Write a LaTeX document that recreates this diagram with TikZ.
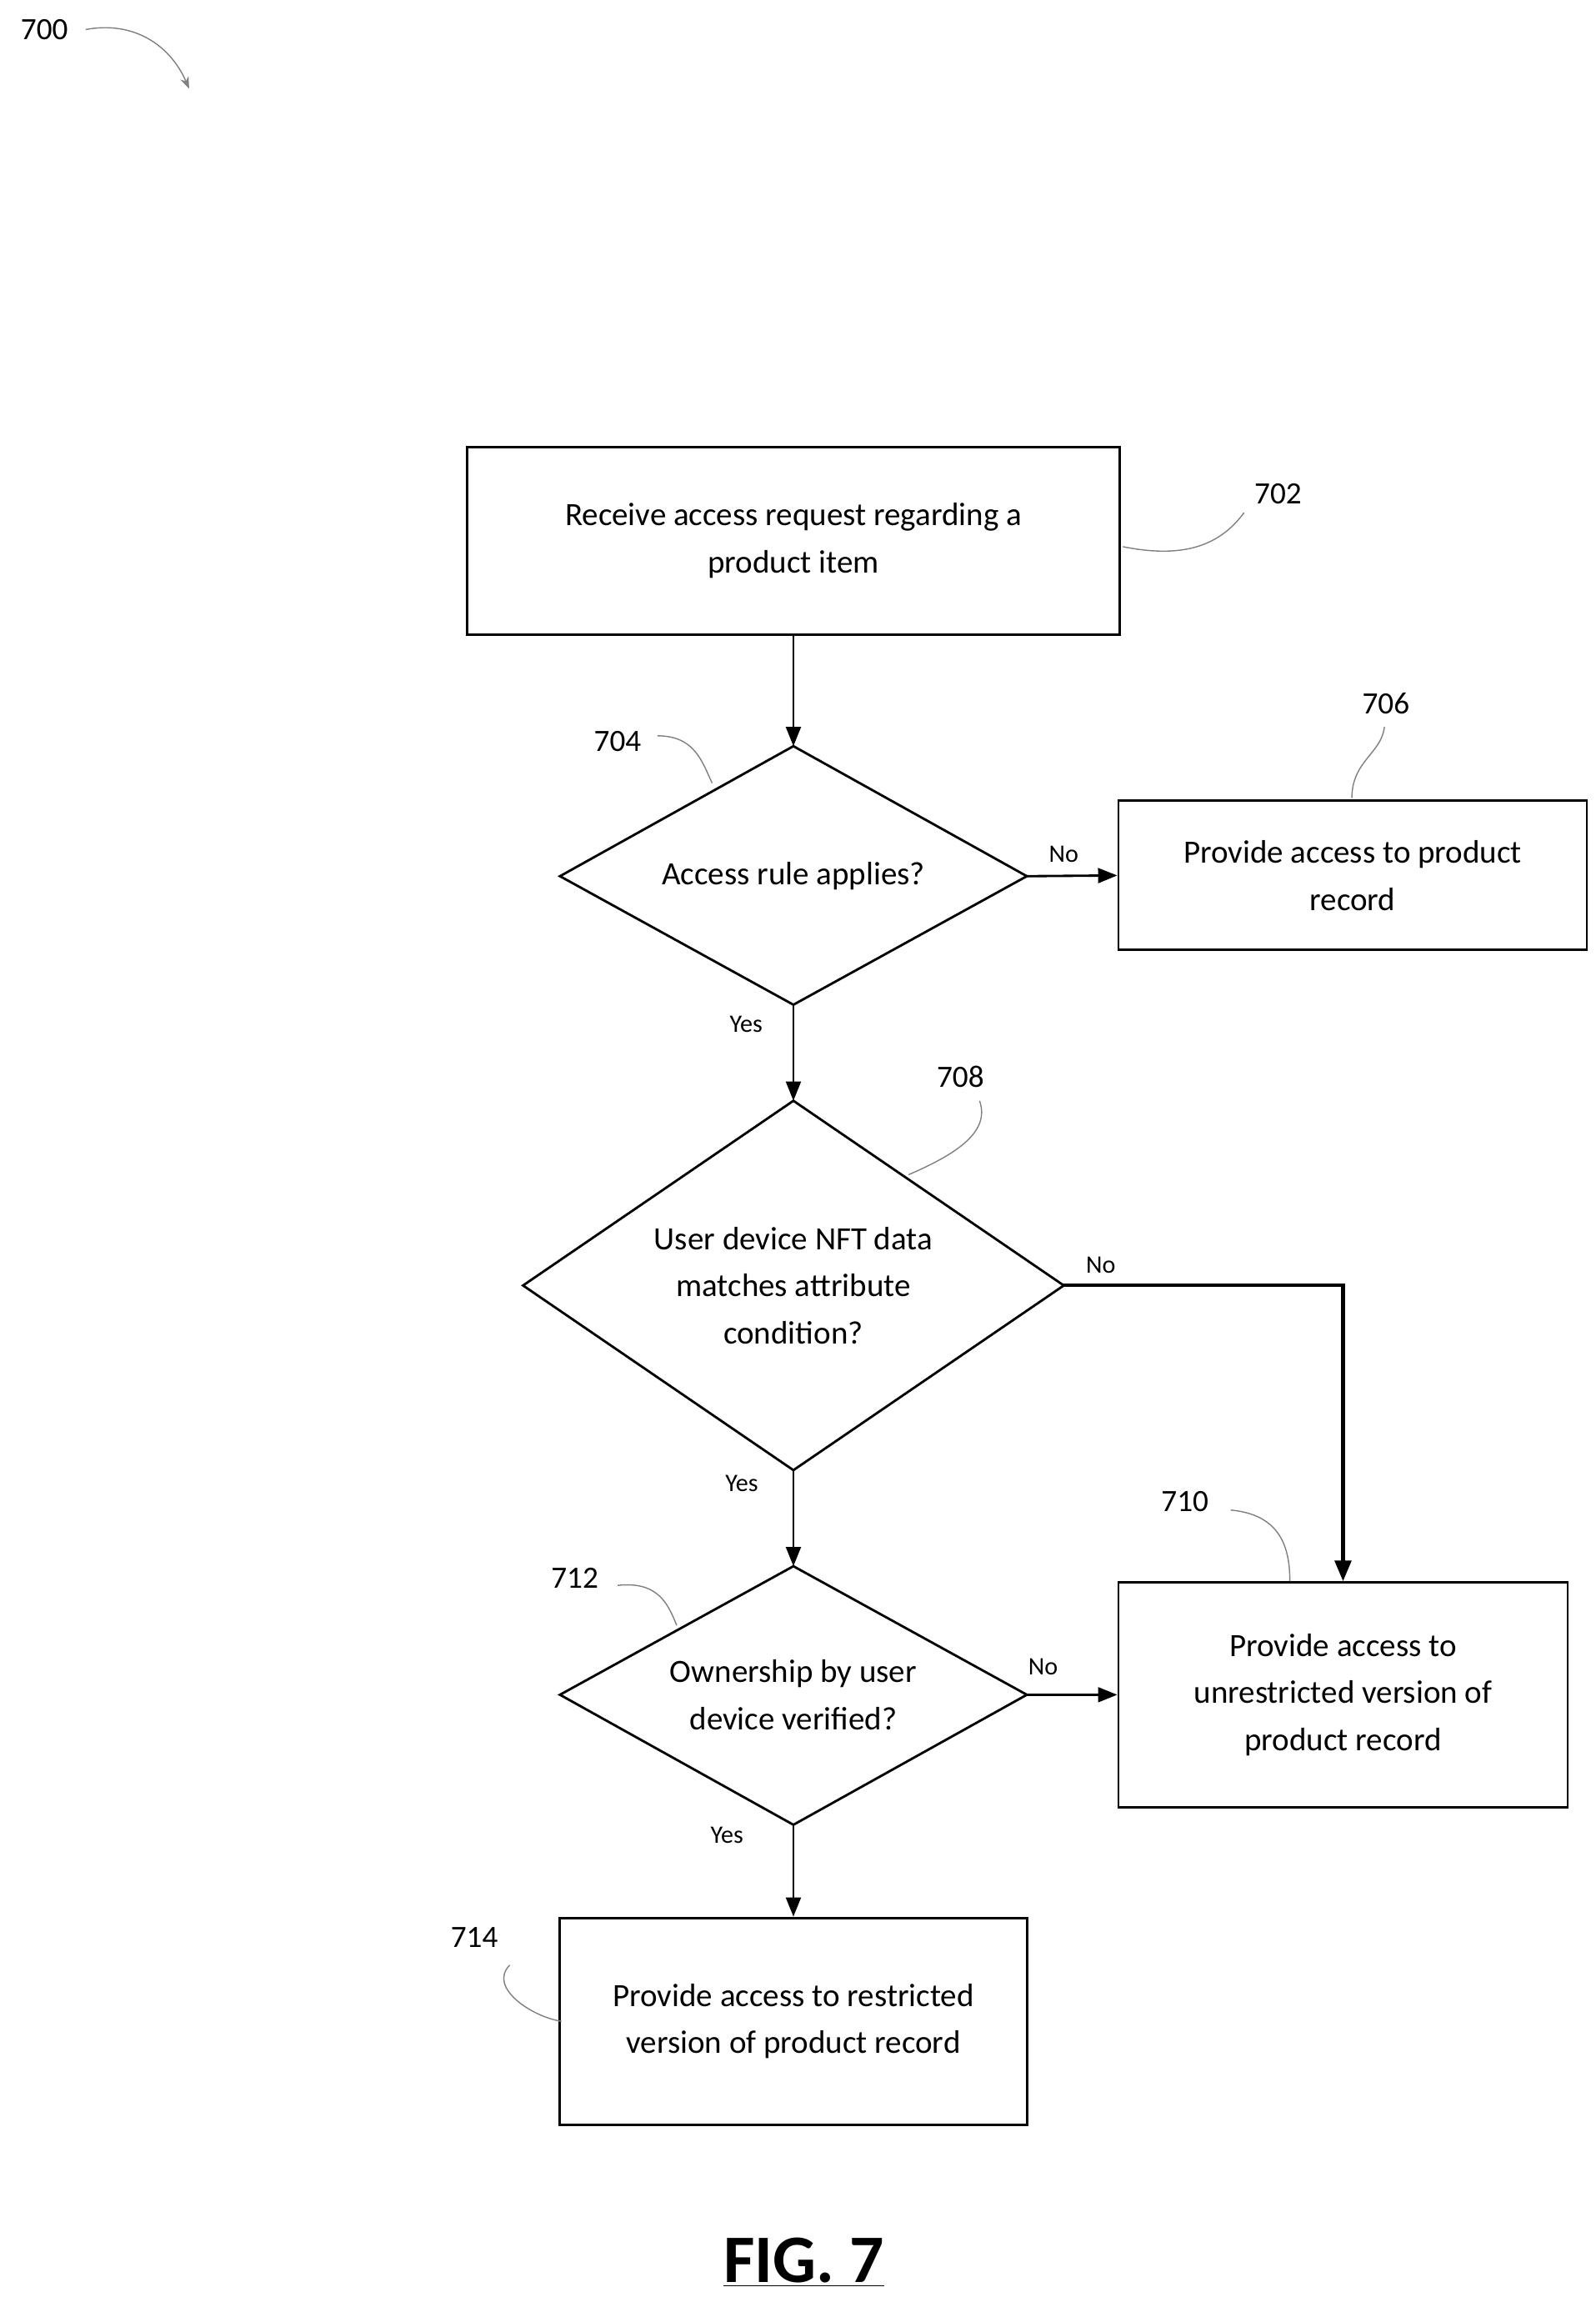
\documentclass[tikz,border=0pt]{standalone}
\usepackage{fontspec}
\setmainfont{Carlito}
\usetikzlibrary{arrows.meta,shapes.geometric}
\begin{document}
\begin{tikzpicture}[x=1pt,y=-1pt,
  box/.style={draw,line width=1.6pt,inner sep=0pt,align=center,font=\fontsize{22}{32}\selectfont},
  dia/.style={draw,line width=1.6pt,diamond,inner sep=0pt,align=center,font=\fontsize{22}{32}\selectfont},
  lbl/.style={font=\fontsize{21}{24}\selectfont},
  yn/.style={font=\fontsize{17}{20}\selectfont},
  lead/.style={draw,gray,line width=0.8pt},
  arr/.style={line width=1.6pt,-{Triangle[length=13pt,width=10pt]}}]
\useasboundingbox (0,0) rectangle (1080,1558);
\node[box,minimum width=442,minimum height=127] (b702) at (537,366) {Receive access request regarding a\\product item};
\node[box,minimum width=317,minimum height=101] (b706) at (915.5,592.5) {Provide access to product\\record};
\node[box,minimum width=304,minimum height=152] (b710) at (909,1147) {Provide access to\\unrestricted version of\\product record};
\node[box,minimum width=316,minimum height=140] (b714) at (537,1368) {Provide access to restricted\\version of product record};
\draw[line width=1.6pt] (379,593) -- (537,505) -- (695,593) -- (537,680) -- cycle;
\node[font=\fontsize{22}{32}\selectfont] (d704) at (537,593) {Access rule applies?};
\coordinate (d704t) at (537,505); \coordinate (d704b) at (537,680); \coordinate (d704r) at (695,593);
\draw[line width=1.6pt] (354,870) -- (537,745) -- (720,870) -- (537,995) -- cycle;
\node[align=center,font=\fontsize{22}{32}\selectfont] (d708) at (537,870) {User device NFT data\\matches attribute\\condition?};
\coordinate (d708t) at (537,745); \coordinate (d708b) at (537,995); \coordinate (d708r) at (720,870);
\draw[line width=1.6pt] (379,1147) -- (537,1060) -- (695,1147) -- (537,1235) -- cycle;
\node[align=center,font=\fontsize{22}{32}\selectfont] (d712) at (537,1147) {Ownership by user\\device verified?};
\coordinate (d712t) at (537,1060); \coordinate (d712b) at (537,1235); \coordinate (d712r) at (695,1147);
\draw[arr] (b702.south) -- (d704t);
\draw[arr] (d704r) -- (b706.west);
\draw[arr] (d704b) -- (d708t);
\draw[arr] (d708b) -- (d712t);
\draw[arr] (d712r) -- (b710.west);
\draw[arr] (d712b) -- (b714.north);
\draw[line width=2.4pt,-{Triangle[length=14pt,width=11pt]}] (d708r) -- (909,870) -- (b710.north);
\node[yn] (n1) at (720,578) {No};
\node[yn] (y1) at (505,693) {Yes};
\node[yn] (n2) at (745,856) {No};
\node[yn] (y2) at (502,1004) {Yes};
\node[yn] (n3) at (706,1128) {No};
\node[yn] (y3) at (492,1242) {Yes};
\node[lbl] (l702) at (865,334) {702};
\node[lbl] (l704) at (418,502) {704};
\node[lbl] (l706) at (938,476) {706};
\node[lbl] (l708) at (650,729) {708};
\node[lbl] (l710) at (802,1016) {710};
\node[lbl] (l712) at (389,1068) {712};
\node[lbl] (l714) at (321,1311) {714};
\node[lbl] (l700) at (30,20) {700};
\draw[lead] (760,370) .. controls (800,378) and (825,370) .. (842,347);
\draw[lead] (445,498) .. controls (470,498) and (475,515) .. (482,530);
\draw[lead] (915,540) .. controls (915,515) and (935,510) .. (937,492);
\draw[lead] (615,795) .. controls (650,780) and (670,765) .. (663,745);
\draw[lead] (833,1022) .. controls (865,1025) and (873,1045) .. (873,1070);
\draw[lead] (418,1073) .. controls (445,1070) and (452,1085) .. (458,1100);
\draw[lead] (345,1330) .. controls (330,1345) and (360,1365) .. (380,1368);
\draw[gray,line width=0.8pt,-{Stealth[length=8pt,width=6pt]}] (58,20) .. controls (90,14) and (115,30) .. (128,60);
\node[font=\fontsize{46}{50}\selectfont\bfseries] (fig) at (544,1531) {\underline{FIG. 7}};
\end{tikzpicture}
\end{document}
